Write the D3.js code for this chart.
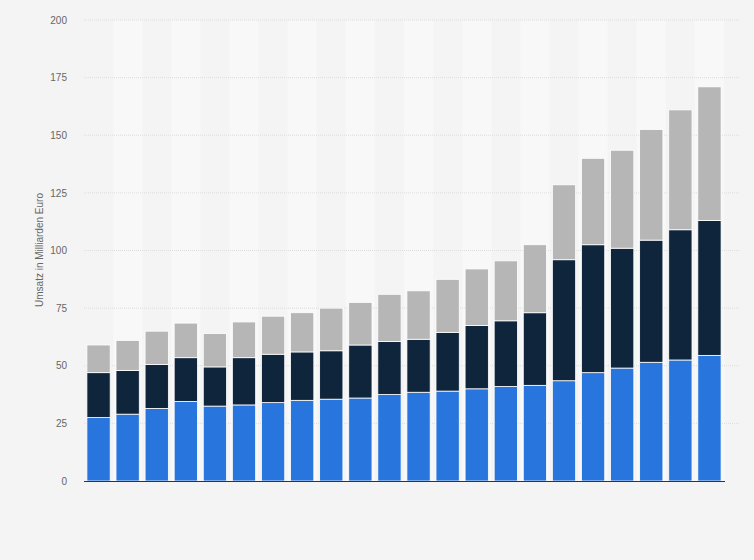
<!DOCTYPE html>
<html><head><meta charset="utf-8">
<script src="https://cdn.jsdelivr.net/npm/d3@7"></script>
<style>body{margin:0;background:#f4f4f4}text{font-family:"Liberation Sans",Arial,sans-serif}</style>
</head><body>
<script>
// categories (no labels shown in the reference)
var years = d3.range(2000, 2022).map(String);
var blue = [27.5,29,31.5,34.5,32.5,33,34,35,35.5,36,37.5,38.5,39,40,41,41.5,43.5,47,49,51.5,52.5,54.5];
var dark = [19.5,19,19,19,17,20.5,21,21,21,23,23,23,25.5,27.5,28.5,31.5,52.5,55.5,52,53,56.5,58.5];
var grey = [12,13,14.5,15,14.5,15.5,16.5,17,18.5,18.5,20.5,21,23,24.5,26,29.5,32.5,37.5,42.5,48,52,58];
var yTicks = [0,25,50,75,100,125,150,175,200];
var colors = ["#2876dd", "#0f253c", "#b6b6b6"];

var svg = d3.select("body").append("svg").attr("width", 754).attr("height", 560);

var x = d3.scaleBand().domain(years).range([84, 724]).paddingInner(0.2).paddingOuter(0.1),
    y = d3.scaleLinear().domain([0, 200]).range([481, 20]);

// alternating column stripes
svg.selectAll("rect.stripe")
    .data(years.filter(function(d, i) { return i % 2 == 1; }))
    .enter().append("rect")
    .attr("x", function(d) { return x(d) - x.step() * x.paddingInner() / 2; })
    .attr("y", 20).attr("width", x.step()).attr("height", 461)
    .attr("fill", "#f8f8f8");

// grid
svg.append("g").selectAll("line").data(yTicks.slice(1)).enter().append("line")
    .attr("x1", 84).attr("x2", 740)
    .attr("y1", function(d) { return y(d); }).attr("y2", function(d) { return y(d); })
    .attr("stroke", "#dddddd").attr("stroke-dasharray", "1,1");

var yAxis = svg.append("g").attr("transform", "translate(70,0)")
    .call(d3.axisLeft(y).tickValues(yTicks).tickSize(0));
yAxis.select(".domain").remove();
yAxis.selectAll("text").attr("fill", "#666").attr("font-size", 10);

var rows = years.map(function(d, i) { return {year: d, a: blue[i], b: dark[i], c: grey[i]}; });
var stack = d3.stack().keys(["a", "b", "c"])(rows);

svg.append("g").selectAll("g").data(stack).enter().append("g")
    .attr("fill", function(d, i) { return colors[i]; })
    .selectAll("rect").data(function(d) { return d; }).enter().append("rect")
    .attr("x", function(d) { return x(d.data.year); })
    .attr("width", x.bandwidth())
    .attr("y", function(d) { return y(d[1]); })
    .attr("height", function(d) { return y(d[0]) - y(d[1]); })
    .attr("stroke", "#ffffff").attr("stroke-width", 0.8);

svg.append("line").attr("x1", 84).attr("x2", 725).attr("y1", 481.5).attr("y2", 481.5)
    .attr("stroke", "#333").attr("stroke-width", 1);

svg.append("text")
    .attr("transform", "translate(43,250) rotate(-90)")
    .attr("text-anchor", "middle").attr("font-size", 10).attr("fill", "#666")
    .text("Umsatz in Milliarden Euro");
</script>
</body></html>
